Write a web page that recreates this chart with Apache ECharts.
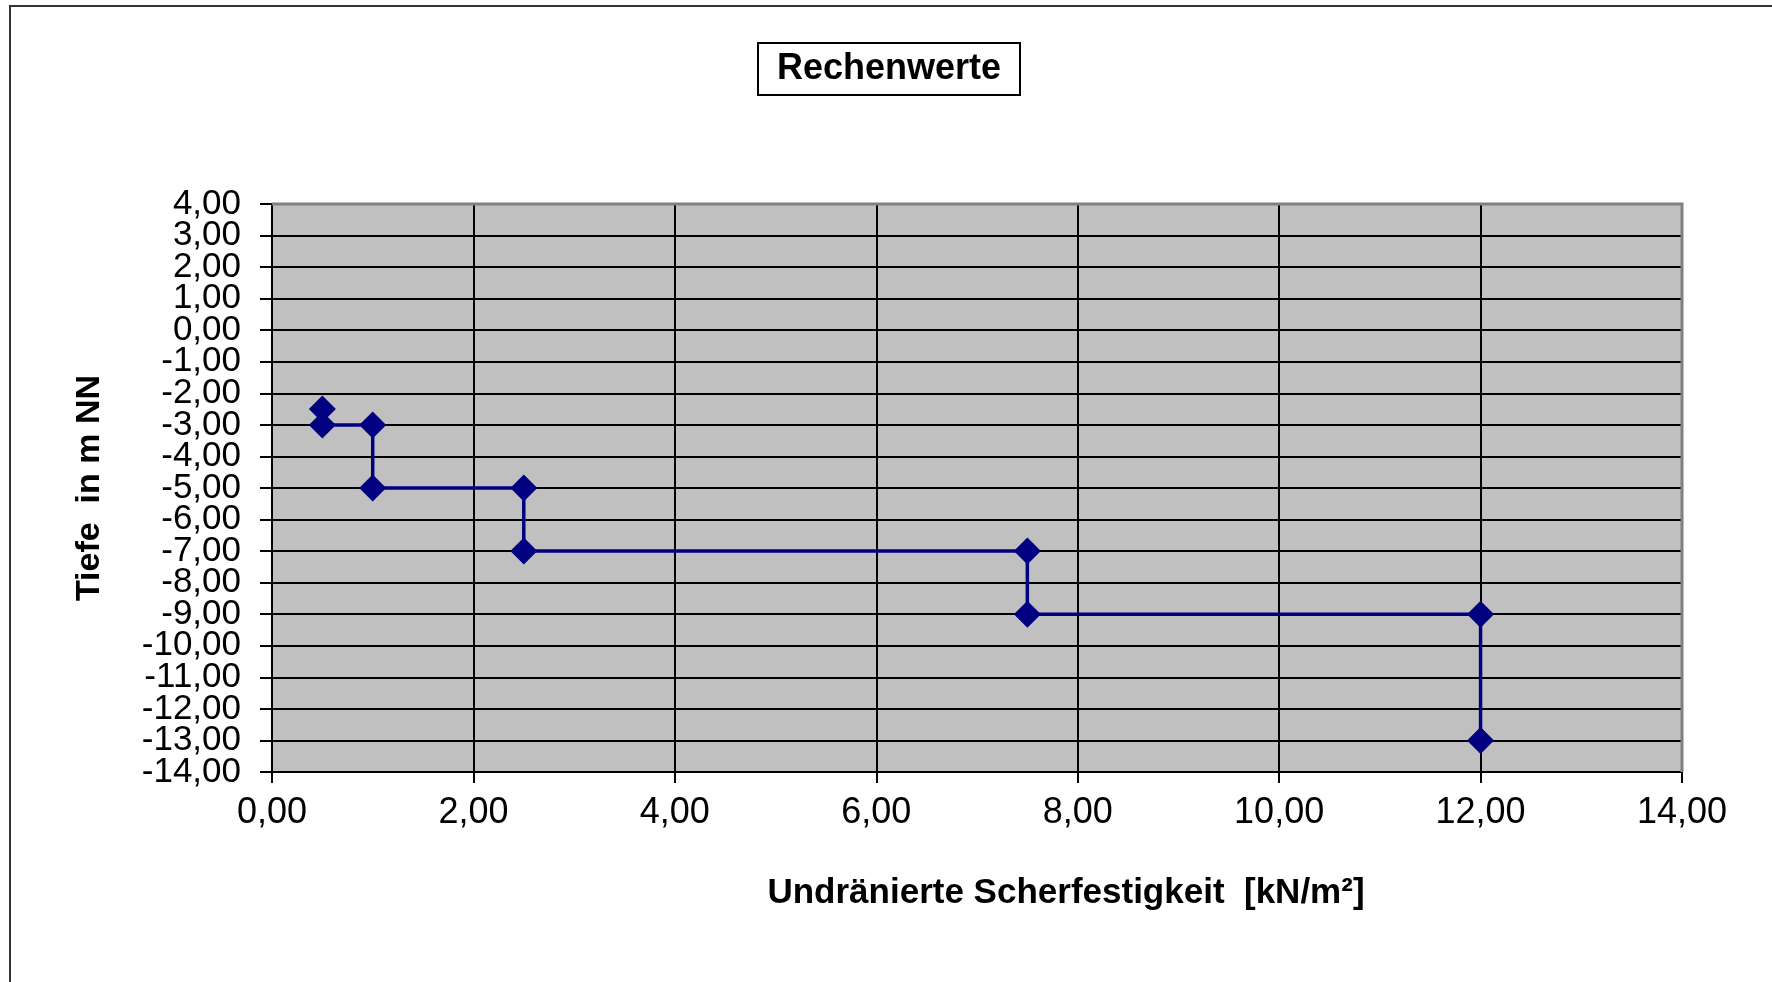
<!DOCTYPE html>
<html>
<head>
<meta charset="utf-8">
<title>Rechenwerte</title>
<script src="https://cdn.jsdelivr.net/npm/echarts@6/dist/echarts.min.js"></script>
<style>
  html, body { margin: 0; padding: 0; background: #fff; }
  #chart { width: 1772px; height: 982px; }
</style>
</head>
<body>
<div id="chart"></div>
<script>
// Undrained shear strength (kN/m²) against depth (m NN), stepped profile
const scherfestigkeit = [0.5, 0.5, 1.0, 1.0, 2.5, 2.5, 7.5, 7.5, 12.0, 12.0];
const tiefe = [-2.5, -3.0, -3.0, -5.0, -5.0, -7.0, -7.0, -9.0, -9.0, -13.0];

const xAxisRange = { min: 0, max: 14, step: 2 };
const yAxisRange = { min: -14, max: 4, step: 1 };
// depth tick labels, split into two interleaved sets so the tightly spaced
// labels are all kept
const yLabelsEven = [4, 2, 0, -2, -4, -6, -8, -10, -12, -14];
const yLabelsOdd = [3, 1, -1, -3, -5, -7, -9, -11, -13];

const fmt = v => v.toFixed(2).replace('.', ',');
const FONT = '"Liberation Sans", Arial, sans-serif';

const chart = echarts.init(document.getElementById('chart'), null, { renderer: 'canvas' });

function depthAxis(values, main) {
  return {
    type: 'value',
    position: 'left',
    min: yAxisRange.min,
    max: yAxisRange.max,
    interval: yAxisRange.step,
    name: main ? 'Tiefe  in m NN' : '',
    nameLocation: 'middle',
    nameRotate: 90,
    nameGap: 165,
    nameTextStyle: { fontFamily: FONT, fontSize: 34, fontWeight: 'bold', color: '#000' },
    axisLine: { show: main, onZero: false, lineStyle: { color: '#000', width: 2 } },
    axisTick: { show: main, length: 12, lineStyle: { color: '#000', width: 2 } },
    axisLabel: {
      customValues: values,
      fontFamily: FONT, fontSize: 35, color: '#000', margin: 31,
      showMinLabel: true, showMaxLabel: true, hideOverlap: false,
      formatter: fmt
    },
    splitLine: { show: main, lineStyle: { color: '#000', width: 2 } }
  };
}

chart.setOption({
  backgroundColor: '#ffffff',
  animation: false,
  title: {
    text: 'Rechenwerte',
    left: 758,
    top: 43,
    padding: [8, 19, 8, 19],
    borderColor: '#000',
    borderWidth: 2,
    backgroundColor: '#fff',
    textStyle: { fontFamily: FONT, fontSize: 36, fontWeight: 'bold', color: '#000' }
  },
  graphic: [
    {
      type: 'rect',
      z: -10,
      shape: { x: 10, y: 6, width: 1800, height: 1000 },
      style: { fill: 'none', stroke: '#333', lineWidth: 2 }
    },
    {
      // grey frame on the top and right of the plot area
      type: 'polyline',
      z: 1,
      shape: { points: [[272, 204], [1682, 204], [1682, 772]] },
      style: { stroke: '#808080', lineWidth: 3, fill: 'none' }
    },
    {
      // x-axis title, set slightly right of the plot centre
      type: 'text',
      x: 1066,
      y: 893,
      style: {
        text: 'Undränierte Scherfestigkeit  [kN/m²]',
        font: 'bold 35px ' + FONT,
        fill: '#000',
        align: 'center',
        verticalAlign: 'middle'
      }
    }
  ],
  grid: {
    left: 272,
    top: 204,
    width: 1410,
    height: 568,
    show: true,
    backgroundColor: '#c0c0c0',
    borderWidth: 0
  },
  xAxis: {
    type: 'value',
    min: xAxisRange.min,
    max: xAxisRange.max,
    interval: xAxisRange.step,
    axisLine: { show: true, onZero: false, lineStyle: { color: '#000', width: 2 } },
    axisTick: { show: true, length: 11, lineStyle: { color: '#000', width: 2 } },
    axisLabel: {
      fontFamily: FONT, fontSize: 36, color: '#000', margin: 23, formatter: fmt,
      showMinLabel: true, showMaxLabel: true
    },
    splitLine: { show: true, lineStyle: { color: '#000', width: 2 } }
  },
  yAxis: [depthAxis(yLabelsEven, true), depthAxis(yLabelsOdd, false)],
  series: [{
    type: 'line',
    yAxisIndex: 0,
    data: scherfestigkeit.map((x, i) => [x, tiefe[i]]),
    symbol: 'diamond',
    symbolSize: 27,
    lineStyle: { color: '#000080', width: 3.5 },
    itemStyle: { color: '#000080' },
    z: 5
  }]
});
</script>
</body>
</html>
